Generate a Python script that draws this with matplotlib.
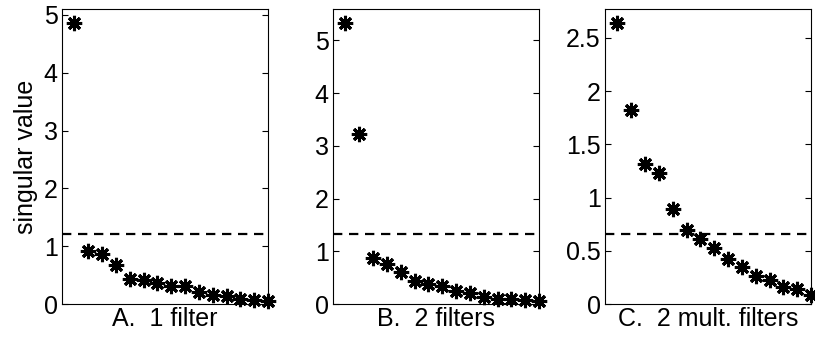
import matplotlib.pyplot as plt

# singular values (index 1..15)
sv_a = [4.86, 0.92, 0.87, 0.67, 0.44, 0.41, 0.36, 0.32, 0.31, 0.20, 0.16, 0.13, 0.09, 0.07, 0.06]
sv_b = [5.33, 3.22, 0.87, 0.76, 0.61, 0.44, 0.38, 0.34, 0.25, 0.21, 0.13, 0.10, 0.09, 0.08, 0.05]
sv_c = [2.64, 1.82, 1.32, 1.23, 0.89, 0.70, 0.61, 0.53, 0.42, 0.35, 0.26, 0.23, 0.16, 0.14, 0.08]
thresholds = [1.21, 1.32, 0.66]
labels = ["A.  1 filter", "B.  2 filters", "C.  2 mult. filters"]
yticks = [[0, 1, 2, 3, 4, 5], [0, 1, 2, 3, 4, 5], [0, 0.5, 1, 1.5, 2, 2.5]]
yticklabels = [["0", "1", "2", "3", "4", "5"], ["0", "1", "2", "3", "4", "5"],
               ["0", "0.5", "1", "1.5", "2", "2.5"]]

plt.rcParams['font.family'] = ['Liberation Sans', 'DejaVu Sans']
plt.rcParams['font.size'] = 18

W, H = 815, 343
fig = plt.figure(figsize=(W / 100, H / 100), dpi=100)

lefts = [62, 333, 605]
ax_w, top, bottom = 206, 9, 304

for i, sv in enumerate([sv_a, sv_b, sv_c]):
    ax = fig.add_axes([lefts[i] / W, 1 - bottom / H, ax_w / W, (bottom - top) / H])
    x = list(range(1, len(sv) + 1))
    ax.plot(x, sv, linestyle='none', marker=(8, 2, 0), markersize=11,
            markeredgewidth=2.2, color='black', clip_on=False, zorder=3)
    ax.axhline(thresholds[i], color='black', linewidth=1.6, dashes=(4.2, 3.0))
    ax.set_xlim(0.1, 15)
    ax.set_ylim(0, 1.05 * max(sv))
    ax.set_xticks([])
    ax.set_yticks(yticks[i])
    ax.set_yticklabels(yticklabels[i])
    ax.tick_params(axis='y', direction='in', length=4, width=0.8,
                   left=True, right=True, pad=3)
    for s in ax.spines.values():
        s.set_linewidth(0.8)
    ax.set_xlabel(labels[i], labelpad=2)
    if i == 0:
        ax.set_ylabel("singular value", labelpad=4)

fig.savefig("out.png", dpi=100)
